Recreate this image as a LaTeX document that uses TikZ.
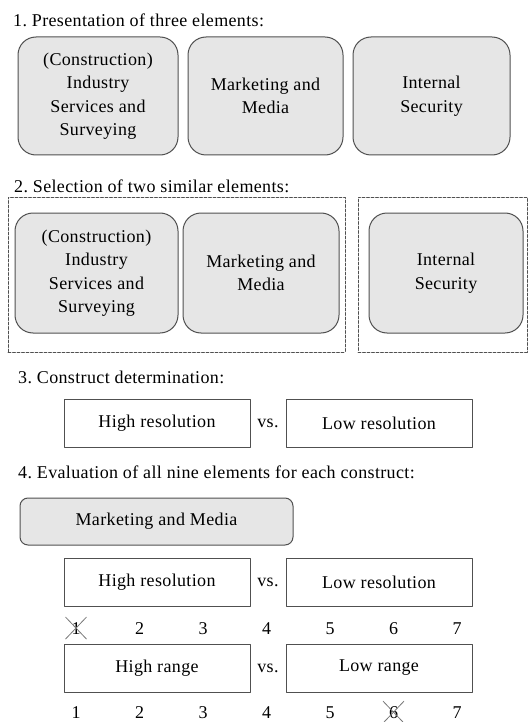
\documentclass[tikz,border=0pt]{standalone}
\usepackage{fontspec}
\setmainfont[LetterSpace=2]{Liberation Serif}
\frenchspacing
\usetikzlibrary{positioning,shapes.misc}
\definecolor{boxgray}{RGB}{230,230,230}
\definecolor{edgegray}{RGB}{80,80,80}
\definecolor{crossgray}{RGB}{120,120,120}

\begin{document}
\begin{tikzpicture}[x=1pt,y=-1pt,line cap=round,line join=round,
  every node/.style={font=\fontsize{18}{23.5}\selectfont,inner sep=0pt},
  heading/.style={anchor=base west},
  element/.style={draw=edgegray,fill=boxgray,line width=1pt,
    rounded corners=18pt,align=center},
  construct/.style={draw=edgegray,fill=white,line width=1pt,
    minimum width=186pt,minimum height=48pt},
  group/.style={draw=edgegray,line width=.9pt,dash pattern=on 3pt off 1.5pt},
  struck/.style={cross out,draw=crossgray,line width=.8pt,
    minimum width=20pt,minimum height=21pt}]
 \useasboundingbox (0,0) rectangle (528,722);

 % step 1: the three elements
 \node[heading] (t1) at (13,27) {1. Presentation of three elements:};
 \node[element,minimum width=160pt,minimum height=118pt] (e1) at (98,96)
  {(Construction)\\Industry\\Services and\\Surveying};
 \node[element,minimum width=155pt,minimum height=118pt] (e2) at (265.5,96)
  {Marketing and\\Media};
 \node[element,minimum width=157pt,minimum height=118pt] (e3) at (431.5,96)
  {Internal\\Security};

 % step 2: two similar ones grouped
 \node[heading] (t2) at (14,192) {2. Selection of two similar elements:};
 \node[group,minimum width=337pt,minimum height=155pt] (g1) at (176.5,274.5) {};
 \node[group,minimum width=169pt,minimum height=155pt] (g2) at (442.5,274.5) {};
 \node[element,minimum width=163pt,minimum height=120pt] (s1) at (96.5,273)
  {(Construction)\\Industry\\Services and\\Surveying};
 \node[element,minimum width=156pt,minimum height=120pt] (s2) at (261,273)
  {Marketing and\\Media};
 \node[element,minimum width=154pt,minimum height=120pt] (s3) at (446,273)
  {Internal\\Security};

 % step 3: the construct pair
 \node[heading] (t3) at (18,383) {3. Construct determination:};
 \node[construct] (hi) at (157,423) {High resolution};
 \node (vs) at (268,423) {vs.};
 \node[construct] (lo) at (379,423) {Low resolution};

 % step 4: rating one element on the scales
 \node[heading] (t4) at (18,478) {4. Evaluation of all nine elements for each construct:};
 \node[element,rounded corners=8pt,minimum width=273pt,minimum height=47pt] (mm)
  at (156.5,521.5) {Marketing and Media};

 \node[construct] (hiA) at (157,582) {High resolution};
 \node (vsA) at (268,582) {vs.};
 \node[construct] (loA) at (379,582) {Low resolution};
 \foreach \i in {1,...,7}
  \node[anchor=base] (a\i) at ({76+63.5*(\i-1)},634) {\i};
 \node[struck] (xa) at (a1) {};

 \node[construct] (hiB) at (157,668) {High range};
 \node (vsB) at (268,668) {vs.};
 \node[construct] (loB) at (379,668) {Low range};
 \foreach \i in {1,...,7}
  \node[anchor=base] (b\i) at ({76+63.5*(\i-1)},718) {\i};
 \node[struck] (xb) at (b6) {};
\end{tikzpicture}
\end{document}
